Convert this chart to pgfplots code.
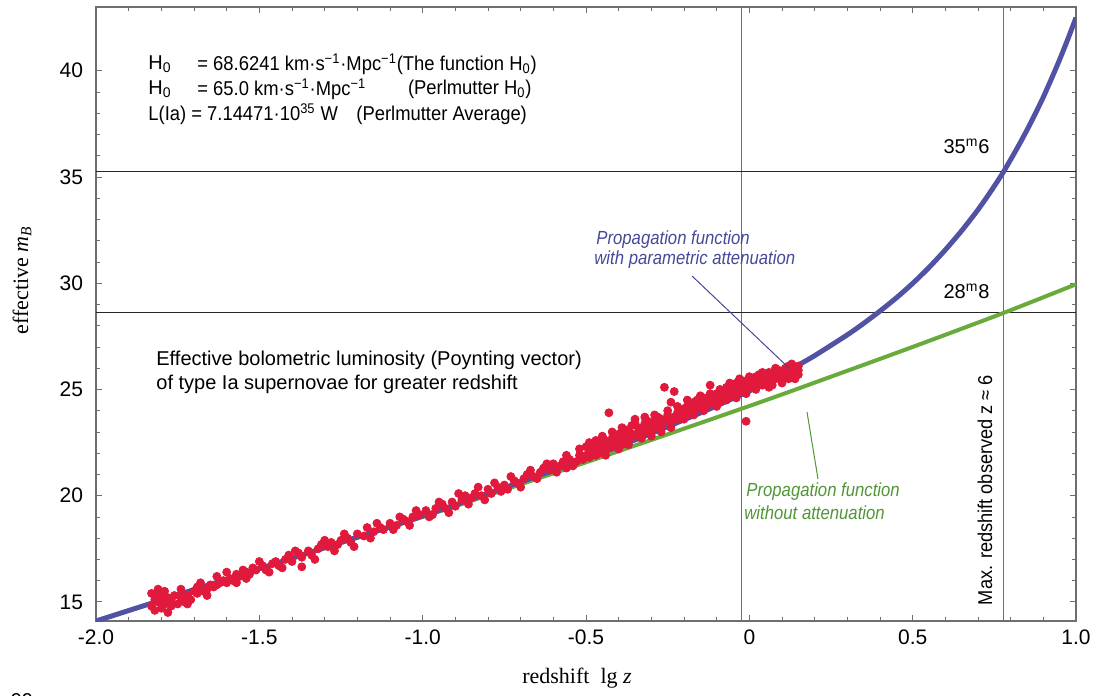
\documentclass[border=0pt]{standalone}
\usepackage{fontspec}
\setmainfont{Liberation Sans}
\newfontfamily\seriffont{Liberation Serif}
\usepackage{graphicx}
\usepackage{pgfplots}
\pgfplotsset{compat=1.18}
\definecolor{cblue}{RGB}{82,82,165}
\definecolor{cgreen}{RGB}{105,170,60}
\definecolor{cred}{RGB}{225,25,60}
\definecolor{axgray}{RGB}{110,110,110}
\definecolor{tblue}{RGB}{72,72,152}
\definecolor{tgreen}{RGB}{80,150,55}

\pgfplotstableread{
x y
-1.83 15.4
-1.83 14.8
-1.82 15.1
-1.82 14.6
-1.82 15.3
-1.81 15.6
-1.81 15.0
-1.80 14.7
-1.80 15.3
-1.80 14.9
-1.79 14.9
-1.79 15.5
-1.78 15.2
-1.78 14.5
-1.77 14.8
-1.77 15.1
-1.76 15.3
-1.75 14.9
-1.74 15.6
-1.74 15.2
-1.73 15.0
-1.72 15.3
-1.72 14.9
-1.71 15.1
-1.70 15.5
-1.69 15.4
-1.69 15.7
-1.68 15.9
-1.67 15.5
-1.66 15.6
-1.66 15.3
-1.65 15.8
-1.64 15.7
-1.63 16.2
-1.63 15.8
-1.62 15.9
-1.61 16.0
-1.60 16.4
-1.60 15.9
-1.59 16.1
-1.58 16.0
-1.57 16.3
-1.57 15.9
-1.56 16.2
-1.55 16.5
-1.54 16.4
-1.54 16.1
-1.53 16.3
-1.52 16.6
-1.51 16.5
-1.50 16.9
-1.49 16.7
-1.48 16.5
-1.47 16.4
-1.46 16.8
-1.45 16.9
-1.44 16.7
-1.43 16.6
-1.42 17.0
-1.41 17.2
-1.40 16.9
-1.39 17.4
-1.38 17.3
-1.37 16.65
-1.37 17.1
-1.35 17.4
-1.34 17.2
-1.33 17.0
-1.32 17.5
-1.31 17.7
-1.30 17.9
-1.29 17.6
-1.28 17.8
-1.27 17.4
-1.26 17.7
-1.25 17.9
-1.24 18.2
-1.23 18.0
-1.22 17.8
-1.21 17.6
-1.20 18.2
-1.18 18.1
-1.17 18.5
-1.16 18.0
-1.15 18.3
-1.14 18.7
-1.13 18.5
-1.12 18.4
-1.10 18.7
-1.09 18.4
-1.08 18.6
-1.07 19.0
-1.06 18.9
-1.05 18.8
-1.04 18.6
-1.03 19.0
-1.02 19.3
-1.01 19.1
-0.99 19.3
-0.98 19.0
-0.97 19.1
-0.96 19.4
-0.95 19.7
-0.94 19.6
-0.93 19.4
-0.92 19.2
-0.91 19.7
-0.90 19.5
-0.89 20.1
-0.88 19.8
-0.87 20.0
-0.86 19.6
-0.85 19.9
-0.84 20.1
-0.83 20.4
-0.82 20.0
-0.81 19.8
-0.80 20.3
-0.79 20.1
-0.78 20.6
-0.77 20.4
-0.76 20.2
-0.75 20.5
-0.74 20.3
-0.73 20.9
-0.72 20.7
-0.71 20.6
-0.70 20.4
-0.69 20.8
-0.68 21.0
-0.67 21.2
-0.66 20.9
-0.65 20.8
-0.64 21.1
-0.63 21.3
-0.62 21.5
-0.61 21.2
-0.60 21.5
-0.59 21.1
-0.58 21.4
-0.57 21.6
-0.56 21.3
-0.56 21.9
-0.55 21.7
-0.54 21.4
-0.53 21.6
-0.52 21.9
-0.52 22.2
-0.51 21.7
-0.50 21.9
-0.50 22.3
-0.49 22.1
-0.49 21.8
-0.49 22.5
-0.48 22.0
-0.48 22.4
-0.47 22.2
-0.47 21.9
-0.47 22.6
-0.46 22.3
-0.46 22.0
-0.45 22.5
-0.45 22.1
-0.45 22.8
-0.44 22.2
-0.44 22.6
-0.44 21.9
-0.43 22.4
-0.43 23.9
-0.42 22.3
-0.42 22.7
-0.42 23.0
-0.41 22.6
-0.41 22.4
-0.40 22.5
-0.40 22.9
-0.40 22.2
-0.39 22.7
-0.39 22.4
-0.39 23.2
-0.38 22.8
-0.38 23.1
-0.37 22.6
-0.37 23.0
-0.37 22.4
-0.36 22.9
-0.36 23.3
-0.35 23.6
-0.35 22.8
-0.35 23.4
-0.34 23.0
-0.34 23.2
-0.33 23.1
-0.33 22.9
-0.33 22.7
-0.32 23.4
-0.32 23.0
-0.32 23.7
-0.31 23.2
-0.31 23.5
-0.30 23.3
-0.30 23.0
-0.30 22.8
-0.29 23.5
-0.29 23.2
-0.29 23.8
-0.28 23.4
-0.28 23.7
-0.27 23.3
-0.27 23.6
-0.27 23.0
-0.26 25.1
-0.26 23.5
-0.25 23.6
-0.25 23.8
-0.25 24.0
-0.24 24.4
-0.24 23.5
-0.24 23.2
-0.23 24.9
-0.23 23.7
-0.22 23.9
-0.22 23.6
-0.22 24.2
-0.21 24.0
-0.21 23.8
-0.20 23.9
-0.20 24.1
-0.20 23.6
-0.19 23.8
-0.19 24.2
-0.19 24.5
-0.18 24.1
-0.18 24.3
-0.17 24.0
-0.17 24.4
-0.17 23.8
-0.16 24.2
-0.16 24.5
-0.15 24.4
-0.15 24.1
-0.15 24.7
-0.14 24.3
-0.14 24.6
-0.14 24.0
-0.13 24.5
-0.13 24.2
-0.12 25.2
-0.12 24.4
-0.12 24.8
-0.11 24.6
-0.11 24.4
-0.10 24.5
-0.10 24.8
-0.10 24.2
-0.09 24.7
-0.09 24.4
-0.09 25.0
-0.08 24.9
-0.08 24.6
-0.07 24.8
-0.07 25.1
-0.07 24.5
-0.06 24.7
-0.06 25.0
-0.06 25.3
-0.05 25.1
-0.05 24.8
-0.04 25.3
-0.04 24.9
-0.04 24.6
-0.03 25.0
-0.03 25.2
-0.03 25.5
-0.02 25.4
-0.02 24.9
-0.01 25.2
-0.01 23.5
-0.01 24.8
0.00 25.6
0.00 25.1
0.00 25.3
0.01 25.2
0.01 25.5
0.02 25.3
0.02 25.0
0.02 25.6
0.03 25.4
0.03 25.7
0.04 25.2
0.04 25.5
0.04 25.8
0.05 25.6
0.05 25.3
0.06 25.4
0.06 25.8
0.06 25.1
0.07 25.5
0.07 25.2
0.08 25.7
0.08 25.5
0.08 26.0
0.09 25.6
0.09 25.9
0.10 25.8
0.10 25.5
0.10 25.3
0.11 25.7
0.11 26.0
0.12 26.1
0.12 25.8
0.12 25.5
0.13 25.9
0.13 25.6
0.13 26.2
0.14 25.8
0.14 26.0
0.14 25.5
0.15 25.7
0.15 25.9
0.15 26.1
}\snedata

\pgfplotstableread{
x y
-2.0 14.1
-1.75 15.33
-1.5 16.56
-1.25 17.8
-1.0 19.04
-0.75 20.37
-0.5 21.74
-0.375 22.47
-0.25 23.25
-0.125 24.06
0.0 24.93
0.05 25.32
0.1 25.72
0.15 26.15
0.2 26.59
0.3 27.57
0.35 28.11
0.4 28.69
0.45 29.31
0.5 29.99
0.55 30.74
0.6 31.57
0.65 32.47
0.7 33.46
0.74 34.34
0.778 35.24
0.82 36.36
0.85 37.21
0.875 37.97
0.9 38.76
0.925 39.63
0.95 40.53
0.975 41.49
1.0 42.5
}\bluedata

\pgfplotstableread{
x y
-2.0 14.1
-1.5 16.55
-1.0 19.0
-0.5 21.57
0.0 24.22
0.25 25.6
0.5 27.0
0.778 28.6
1.0 29.95
}\greendata

\begin{document}
\begin{tikzpicture}
\useasboundingbox (0,0) rectangle (547.5pt,-347.5pt);
\begin{axis}[at={(48pt,-310.5pt)}, anchor=south west, scale only axis,
 width=490pt, height=307pt,
 xmin=-2, xmax=1, ymin=14.1, ymax=43,
 xtick={-2,-1.5,-1,-0.5,0,0.5,1},
 xticklabels={-2.0,-1.5,-1.0,-0.5,0,0.5,1.0},
 ytick={15,20,25,30,35,40},
 yticklabels={15,20,25,30,35,40},
 minor x tick num=4, minor y tick num=4,
 tick align=inside, xtick pos=both, ytick pos=both,
 major tick length=3pt, minor tick length=2pt,
 every tick/.style={axgray, line width=0.4pt},
 axis line style={axgray, line width=0.6pt},
 ticklabel style={font=\fontsize{10.5}{12}\selectfont},
 /pgf/number format/assume math mode=true,
 yticklabel style={xshift=-3pt},
 xticklabel style={yshift=-1pt},
]
\addplot[axgray, line width=0.5pt] coordinates {(-0.025,14.1) (-0.025,43)};
\addplot[axgray, line width=0.5pt] coordinates {(0.778,14.1) (0.778,43)};
\addplot[black!85, line width=0.5pt] coordinates {(-2,35.24) (1,35.24)};
\addplot[black!85, line width=0.5pt] coordinates {(-2,28.6) (1,28.6)};
\addplot[only marks, mark=*, mark size=2pt, color=cred, mark options={fill=cred, draw=cred}] table[x=x,y=y] {\snedata};
\addplot[cgreen, line width=2pt, smooth] table[x=x,y=y] {\greendata};
\addplot[cblue, line width=2.5pt, smooth, tension=0.4] table[x=x,y=y] {\bluedata};
\end{axis}
\begin{scope}[x=0.5pt,y=-0.5pt]
\begin{scope}[every node/.style={inner sep=0pt, font=\fontsize{10}{12}\selectfont}]
\node[anchor=west] at (148,64) {H\textsubscript{0}};
\node[anchor=west] at (197,64) {\scalebox{0.92}[1]{= 68.6241 km·s\textsuperscript{−1}·Mpc\textsuperscript{−1}(The function H\textsubscript{0})}};
\node[anchor=west] at (148,89) {H\textsubscript{0}};
\node[anchor=west] at (197,89) {\scalebox{0.92}[1]{= 65.0 km·s\textsuperscript{−1}·Mpc\textsuperscript{−1}}};
\node[anchor=east] at (532,89) {\scalebox{0.92}[1]{(Perlmutter H\textsubscript{0})}};
\node[anchor=west] at (148,114) {\scalebox{0.92}[1]{L(Ia) = 7.14471·10\textsuperscript{35} W\quad(Perlmutter Average)}};
\node[anchor=west] at (156,360) {Effective bolometric luminosity (Poynting vector)};
\node[anchor=west] at (156,384) {of type Ia supernovae for greater redshift};
\node[anchor=east] at (990,146) {35\textsuperscript{m}6};
\node[anchor=east] at (990,291) {28\textsuperscript{m}8};
\node[rotate=90] at (985,490) {\scalebox{0.91}[1]{Max. redshift observed z ≈ 6}};
\node[anchor=north] at (22,693) {99};
\end{scope}
\begin{scope}[every node/.style={inner sep=0pt, font=\fontsize{9.5}{11}\itshape\selectfont}]
\node[anchor=west, text=tblue] at (596,240) {\scalebox{0.88}[1]{Propagation function}};
\node[anchor=west, text=tblue] at (594,260) {\scalebox{0.88}[1]{with parametric attenuation}};
\node[anchor=west, text=tgreen] at (746,492) {\scalebox{0.88}[1]{Propagation function}};
\node[anchor=west, text=tgreen] at (744,513) {\scalebox{0.88}[1]{without attenuation}};
\end{scope}
\draw[tblue, line width=0.5pt] (692,276) -- (790,369);
\draw[tgreen, line width=0.5pt] (807,412) -- (818,479);
\node[rotate=90, font=\seriffont\fontsize{11}{13}\selectfont] at (22,280) {effective \textit{m}\textsubscript{\textit{B}}};
\node[font=\seriffont\fontsize{11}{13}\selectfont] at (577,678) {redshift\ \ lg \textit{z}};
\end{scope}
\end{tikzpicture}
\end{document}
